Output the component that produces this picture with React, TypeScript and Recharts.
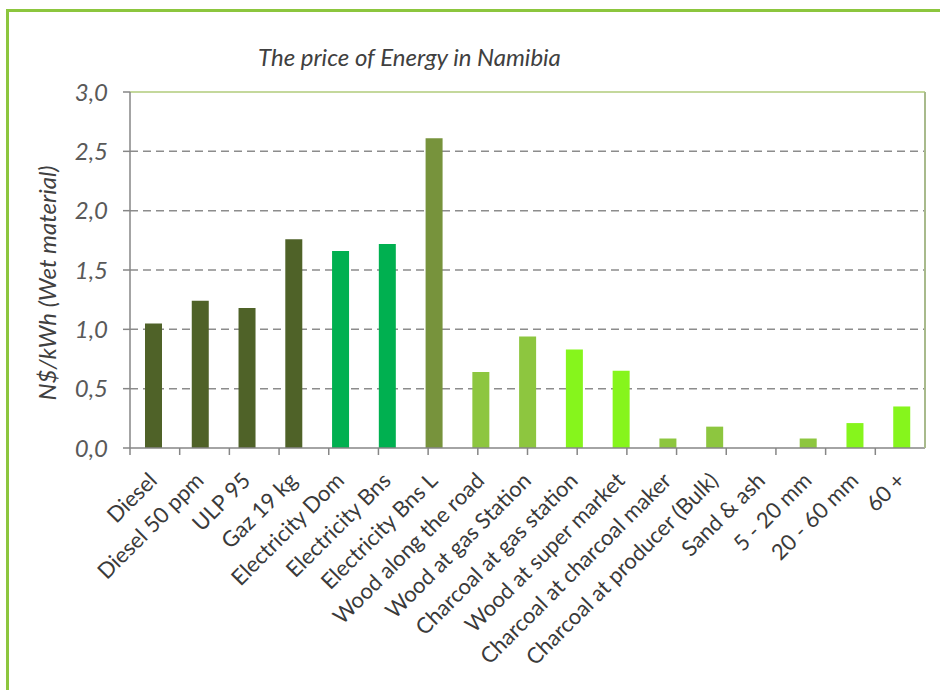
import { BarChart, Bar, XAxis, YAxis, CartesianGrid, ReferenceLine, Cell } from "recharts";

const CATEGORIES = [
  "Diesel",
  "Diesel 50 ppm",
  "ULP 95",
  "Gaz 19 kg",
  "Electricity Dom",
  "Electricity Bns",
  "Electricity Bns L",
  "Wood along the road",
  "Wood at gas Station",
  "Charcoal at gas station",
  "Wood at super market",
  "Charcoal at charcoal maker",
  "Charcoal at producer (Bulk)",
  "Sand & ash",
  "5 - 20 mm",
  "20 - 60 mm",
  "60 +",
];

// N$ per kWh, wet material
const PRICES = [1.05, 1.24, 1.18, 1.76, 1.66, 1.72, 2.61, 0.64, 0.94, 0.83, 0.65, 0.08, 0.18, 0, 0.08, 0.21, 0.35];

const Y_TICKS = [0, 0.5, 1, 1.5, 2, 2.5, 3];
const GRID_VALUES = [0.5, 1, 1.5, 2, 2.5];

const OLIVE = "#4f6228";
const EMERALD = "#00b050";
const MOSS = "#77933c";
const LEAF = "#8dc63f";
const LIME = "#86f51c";

const COLORS = [
  OLIVE, OLIVE, OLIVE, OLIVE,
  EMERALD, EMERALD,
  MOSS,
  LEAF, LEAF,
  LIME, LIME,
  LEAF, LEAF, LEAF, LEAF,
  LIME, LIME,
];

// tick marks sit on the category boundaries, Excel style
const EDGE_TICKS = Array.from({ length: CATEGORIES.length + 1 }, (_, i) => i);

const data = CATEGORIES.map((name, i) => ({ name, price: PRICES[i] }));

const FONT = "Lato, 'Open Sans', sans-serif";
const AXIS_GREY = "#868686";

const fmt = (v: number) => v.toFixed(1).replace(".", ",");

function SlantTick({ x, y, payload }: any) {
  const tx = x + 5;
  const ty = y + 33;
  return (
    <text
      x={tx}
      y={ty}
      transform={`rotate(-45 ${tx} ${ty})`}
      textAnchor="end"
      fontFamily={FONT}
      fontSize={22}
      fill="#3a3a3a"
    >
      {payload.value}
    </text>
  );
}

const NoLabel = () => <g />;

export default function App() {
  return (
    <div
      style={{
        position: "fixed",
        left: 0,
        top: 0,
        width: 940,
        height: 690,
        overflow: "hidden",
        background: "#fff",
      }}
    >
      <div
        style={{
          position: "absolute",
          left: 6,
          top: 9,
          width: 1000,
          height: 1000,
          border: "3px solid #8cc63e",
        }}
      />
      <div style={{ position: "absolute", left: 0, top: 0 }}>
        <BarChart
          width={940}
          height={690}
          data={data}
          margin={{ top: 92, right: 14, left: 50, bottom: 41 }}
        >
          <CartesianGrid
            xAxisId="b"
            vertical={false}
            horizontalValues={GRID_VALUES}
            stroke="#8c8c8c"
            strokeWidth={1.5}
            strokeDasharray="8 5"
          />
          <XAxis
            xAxisId="b"
            dataKey="name"
            interval={0}
            axisLine={false}
            tickLine={false}
            tickSize={0}
            tickMargin={0}
            height={200}
            tick={<SlantTick />}
          />
          <XAxis
            xAxisId="a"
            type="number"
            domain={[0, CATEGORIES.length]}
            ticks={EDGE_TICKS}
            tick={<NoLabel />}
            tickSize={7}
            tickLine={{ stroke: AXIS_GREY, strokeWidth: 1.5 }}
            axisLine={{ stroke: AXIS_GREY, strokeWidth: 1.5 }}
            height={1}
            allowDataOverflow
          />
          <YAxis
            domain={[0, 3]}
            ticks={Y_TICKS}
            width={80}
            tickFormatter={fmt}
            tickSize={7}
            tickMargin={15}
            tickLine={{ stroke: AXIS_GREY, strokeWidth: 1.5 }}
            axisLine={{ stroke: AXIS_GREY, strokeWidth: 1.5 }}
            tick={{ fontFamily: FONT, fontSize: 24, fontStyle: "italic", fill: "#595959" }}
          />
          <YAxis
            yAxisId="frame"
            orientation="right"
            domain={[0, 3]}
            tick={false}
            tickLine={false}
            width={1}
            axisLine={{ stroke: "#a8ba8c", strokeWidth: 2 }}
          />
          <ReferenceLine xAxisId="b" y={3} stroke="#c4d89c" strokeWidth={2} />
          <Bar xAxisId="b" dataKey="price" barSize={17} isAnimationActive={false}>
            {data.map((_, i) => (
              <Cell key={i} fill={COLORS[i]} />
            ))}
          </Bar>
        </BarChart>
      </div>
      <svg
        width={940}
        height={690}
        style={{ position: "absolute", left: 0, top: 0, pointerEvents: "none" }}
      >
        <text
          x={258}
          y={66}
          fontFamily={FONT}
          fontSize={24}
          fontStyle="italic"
          fill="#404040"
        >
          The price of Energy in Namibia
        </text>
        <text
          x={56}
          y={283}
          transform="rotate(-90 56 283)"
          textAnchor="middle"
          fontFamily={FONT}
          fontSize={24}
          fontStyle="italic"
          fill="#404040"
        >
          N$/kWh (Wet material)
        </text>
      </svg>
    </div>
  );
}
